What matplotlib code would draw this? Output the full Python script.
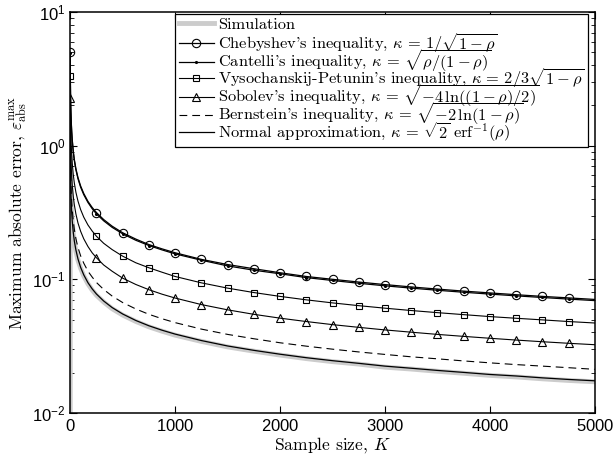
import numpy as np
import matplotlib
matplotlib.use('Agg')
import matplotlib.pyplot as plt
from matplotlib.offsetbox import VPacker, DrawingArea

# values
K = [1, 2, 3, 4, 6, 8, 11, 15, 20, 30, 40, 55, 75, 100, 130, 170, 210, 251,
     320, 400, 501, 626, 751, 876, 1001, 1251, 1501, 1751, 2001, 2251, 2501,
     2751, 3001, 3251, 3501, 3751, 4001, 4251, 4501, 4751, 5000]

sim = [0.001, 0.84, 0.70, 0.60, 0.49, 0.43, 0.36, 0.31, 0.27, 0.22, 0.19,
       0.162, 0.139, 0.121, 0.106, 0.0925, 0.0832, 0.0760, 0.0676, 0.0603,
       0.0540, 0.0484, 0.0441, 0.0409, 0.0382, 0.0343, 0.0312, 0.0290,
       0.0271, 0.0255, 0.0242, 0.0232, 0.0220, 0.0213, 0.0205, 0.0198,
       0.0191, 0.0186, 0.0180, 0.0175, 0.0171]

chebyshev = [5.0, 3.54, 2.89, 2.5, 2.04, 1.77, 1.51, 1.29, 1.12, 0.913, 0.791,
             0.674, 0.577, 0.500, 0.439, 0.383, 0.345, 0.316, 0.280, 0.250,
             0.223, 0.200, 0.182, 0.169, 0.158, 0.141, 0.129, 0.120, 0.112,
             0.105, 0.100, 0.0954, 0.0913, 0.0877, 0.0845, 0.0816, 0.0791,
             0.0767, 0.0745, 0.0726, 0.0707]

cantelli = [4.9, 3.46, 2.83, 2.45, 2.00, 1.73, 1.48, 1.27, 1.10, 0.895, 0.775,
            0.661, 0.566, 0.490, 0.430, 0.376, 0.338, 0.309, 0.274, 0.245,
            0.219, 0.196, 0.179, 0.166, 0.155, 0.139, 0.126, 0.117, 0.110,
            0.103, 0.098, 0.0934, 0.0894, 0.0859, 0.0828, 0.0800, 0.0775,
            0.0752, 0.0731, 0.0711, 0.0693]

vys_pet = [3.33, 2.35, 1.92, 1.67, 1.36, 1.18, 1.00, 0.860, 0.745, 0.608,
           0.527, 0.449, 0.385, 0.333, 0.292, 0.255, 0.230, 0.210, 0.186,
           0.167, 0.149, 0.133, 0.122, 0.113, 0.105, 0.0941, 0.0859, 0.0796,
           0.0745, 0.0702, 0.0666, 0.0635, 0.0608, 0.0584, 0.0563, 0.0544,
           0.0526, 0.0511, 0.0497, 0.0483, 0.0471]

sobolev = [2.29, 1.62, 1.32, 1.15, 0.935, 0.810, 0.690, 0.591, 0.512, 0.418,
           0.362, 0.309, 0.264, 0.229, 0.201, 0.176, 0.158, 0.145, 0.128,
           0.115, 0.102, 0.0915, 0.0836, 0.0774, 0.0724, 0.0647, 0.0591,
           0.0547, 0.0512, 0.0483, 0.0458, 0.0437, 0.0418, 0.0402, 0.0387,
           0.0374, 0.0362, 0.0351, 0.0341, 0.0332, 0.0324]

bernstein = [1.5, 1.06, 0.866, 0.75, 0.612, 0.530, 0.452, 0.387, 0.335, 0.274,
             0.237, 0.202, 0.173, 0.150, 0.132, 0.115, 0.104, 0.0947, 0.0839,
             0.0750, 0.0670, 0.0600, 0.0547, 0.0507, 0.0474, 0.0424, 0.0387,
             0.0359, 0.0335, 0.0316, 0.0300, 0.0286, 0.0274, 0.0263, 0.0254,
             0.0245, 0.0237, 0.0230, 0.0224, 0.0218, 0.0212]

normal = [1.23, 0.870, 0.710, 0.615, 0.502, 0.435, 0.371, 0.318, 0.275, 0.225,
          0.194, 0.166, 0.142, 0.123, 0.108, 0.0943, 0.0849, 0.0776, 0.0688,
          0.0615, 0.0550, 0.0492, 0.0449, 0.0416, 0.0389, 0.0348, 0.0317,
          0.0294, 0.0275, 0.0259, 0.0246, 0.0235, 0.0224, 0.0216, 0.0208,
          0.0201, 0.0194, 0.0189, 0.0183, 0.0178, 0.0174]

labels = ["Simulation",
          r"Chebyshev's inequality, $\kappa\,=\,1/\sqrt{1-\rho}$",
          r"Cantelli's inequality, $\kappa\,=\,\sqrt{\rho/(1-\rho)}$",
          r"Vysochanskij-Petunin's inequality, $\kappa\,=\,2/3\sqrt{1-\rho}$",
          r"Sobolev's inequality, $\kappa\,=\,\sqrt{-4\,\ln((1-\rho)/2)}$",
          r"Bernstein's inequality, $\kappa\,=\,\sqrt{-2\,\ln(1-\rho)}$",
          r"Normal approximation, $\kappa\,=\,\sqrt{2}\ \mathrm{erf}^{-1}(\rho)$"]

plt.rcParams['font.family'] = 'Liberation Sans'
plt.rcParams['mathtext.fontset'] = 'custom'
plt.rcParams['mathtext.rm'] = 'Liberation Sans'
plt.rcParams['mathtext.it'] = 'Liberation Sans:italic'
plt.rcParams['mathtext.bf'] = 'Liberation Sans:bold'
plt.rcParams['axes.formatter.use_mathtext'] = True

# markers every 250 samples, starting at K = 1
marks = [i for i, k in enumerate(K) if (k - 1) % 250 == 0 and k < 5000]

fig = plt.figure(figsize=(6.15, 4.65), dpi=100)
ax = fig.add_axes([0.114, 0.112, 0.853, 0.862])

ax.plot(K, sim, color='0.8', lw=3.5, label=labels[0])
ax.plot(K, chebyshev, 'k-', lw=0.9, marker='o', ms=6, mfc='none', mew=0.8,
        markevery=marks, label=labels[1])
ax.plot(K, cantelli, 'k-', lw=0.9, marker='.', ms=2.5,
        markevery=marks, label=labels[2])
ax.plot(K, vys_pet, 'k-', lw=0.8, marker='s', ms=4.5, mfc='none', mew=0.8,
        markevery=marks, label=labels[3])
ax.plot(K, sobolev, 'k-', lw=0.8, marker='^', ms=6, mfc='none', mew=0.8,
        markevery=marks, label=labels[4])
ax.plot(K, bernstein, 'k', lw=0.8, ls=(0, (7, 4.5)), label=labels[5])
ax.plot(K, normal, 'k-', lw=0.9, label=labels[6])

ax.set_yscale('log')
ax.set_xlim(0, 5000)
ax.set_ylim(1e-2, 1e1)
ax.set_xticks([0, 1000, 2000, 3000, 4000, 5000])
ax.tick_params(which='both', direction='in', top=True, right=True, labelsize=12)
ax.tick_params(which='major', length=5)
ax.tick_params(which='minor', length=3)
for s in ax.spines.values():
    s.set_linewidth(1.1)

ax.set_xlabel(r"Sample size, $K$", fontfamily='cmr10', fontsize=12.6,
              math_fontfamily='cm', labelpad=1)
ax.set_ylabel(r"Maximum absolute error, $\varepsilon_{\mathrm{abs}}^{\mathrm{max}}$",
              fontfamily='cmr10', fontsize=12.6, math_fontfamily='cm', labelpad=2)

leg = ax.legend(loc='upper right', bbox_to_anchor=(0.987, 0.995), borderaxespad=0,
                prop={'family': 'cmr10', 'size': 11.8}, fancybox=False,
                framealpha=1, edgecolor='k', handlelength=2.15,
                handletextpad=0.25, labelspacing=-0.46, borderpad=0.2)
leg.get_frame().set_linewidth(0.9)
for t in leg.get_texts():
    t.set_math_fontfamily('cm')

# the plain "Simulation" row is shorter than the rows with roots:
# put a small empty gap under it so the row pitch stays even
col = leg._legend_handle_box.get_children()[0]
first_row = col._children[0]
col._children[0] = VPacker(pad=0, sep=0, align='left',
                           children=[first_row, DrawingArea(0, 4.9)])
col._children[0].set_figure(fig)

fig.savefig('out.png', dpi=100)
